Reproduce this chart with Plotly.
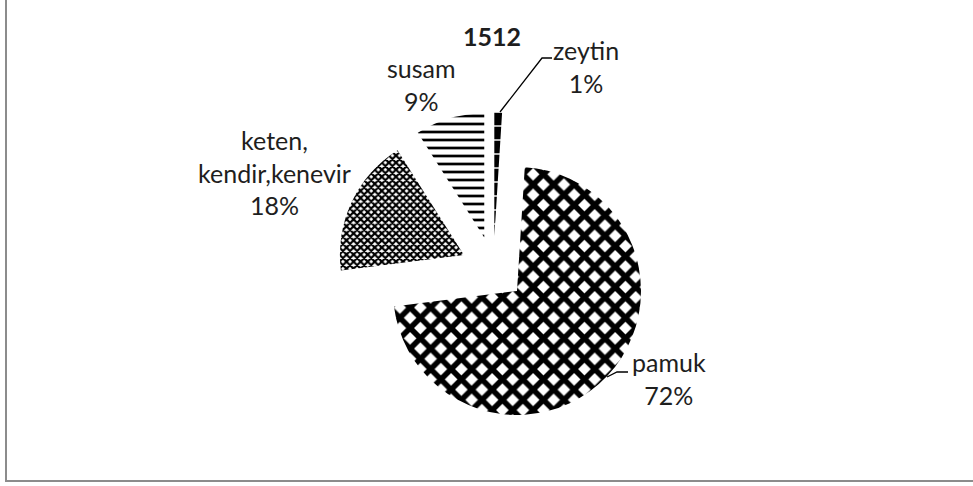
import plotly.graph_objects as go

# ---- data ----
labels = ["pamuk", "keten, kendir,kenevir", "susam", "zeytin"]
shares = [72, 18, 9, 1]
chart_title = "1512"

# ---- styling ----
W, H = 973, 486
FONT = "Lato"
TXT = "#1e1e1e"

def px(x):
    return x / W

def py(y):
    return 1 - y / H

pat = dict(
    shape=["x", "x", "-", "-"],
    size=[14.5, 5, 8, 14],
    solidity=[0.62, 0.68, 0.34, 0.9],
    fgcolor="black", bgcolor="white", fillmode="replace",
)

fig = go.Figure(go.Pie(
    labels=labels,
    values=shares,
    sort=False,
    direction="clockwise",
    rotation=3.6,
    pull=[0.262] * len(shares),
    textinfo="none",
    hoverinfo="skip",
    showlegend=False,
    marker=dict(colors=["white"] * len(shares), line=dict(width=0), pattern=pat),
    domain=dict(x=[0.25, 0.764], y=[0.1251, 0.7691]),
))

# label texts built from data
total = sum(shares)
disp = {"keten, kendir,kenevir": "keten,<br>kendir,kenevir"}
label_pos = [(669, 378), (274, 172.5), (421, 84), (586, 67)]
annotations = []
for lab, v, (x, y) in zip(labels, shares, label_pos):
    txt = f"{disp.get(lab, lab)}<br>{round(100 * v / total)}%"
    annotations.append(dict(
        text=txt, x=px(x), y=py(y), xref="paper", yref="paper",
        xanchor="center", yanchor="middle", showarrow=False, align="center",
        font=dict(family=FONT, size=25, color=TXT),
    ))
annotations.append(dict(
    text=f"<b>{chart_title}</b>", x=px(492), y=py(35.5), xref="paper", yref="paper",
    xanchor="center", yanchor="middle", showarrow=False,
    font=dict(family=FONT, size=25, color=TXT),
))

def path_paper(points):
    return "M " + " L ".join(f"{px(a)},{py(b)}" for a, b in points)

shapes = [
    # outer chart border (left and bottom visible)
    dict(type="path", xref="paper", yref="paper",
         path=path_paper([(6, -10), (6, 481), (1000, 481)]),
         line=dict(color="#8c8c8c", width=2)),
    # leader lines
    dict(type="path", xref="paper", yref="paper",
         path=path_paper([(500, 112), (542, 58), (552, 58)]),
         line=dict(color="black", width=1.3)),
    dict(type="path", xref="paper", yref="paper",
         path=path_paper([(607, 377), (617, 372), (628, 372)]),
         line=dict(color="black", width=1.3)),
]

fig.update_layout(
    width=W, height=H, autosize=False,
    margin=dict(l=0, r=0, t=0, b=0),
    paper_bgcolor="white", plot_bgcolor="white",
    annotations=annotations, shapes=shapes,
)

fig.write_html("out.html", config={"displayModeBar": False},
               post_script="document.body.style.margin='0px';document.body.style.overflow='hidden';")
